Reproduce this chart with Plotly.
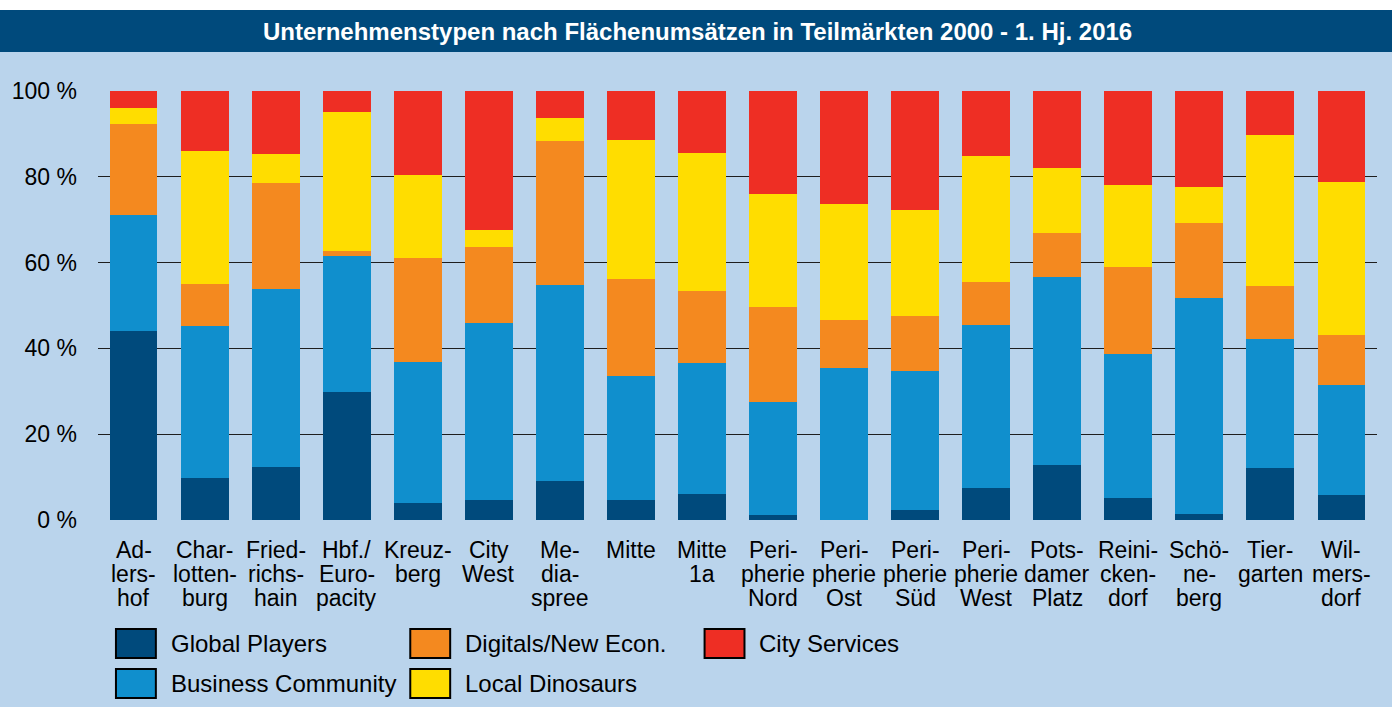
import plotly.graph_objects as go

# ---------------- data ----------------
categories = ["Adlershof", "Charlottenburg", "Friedrichshain", "Hbf./Europacity", "Kreuzberg",
              "City West", "Mediaspree", "Mitte", "Mitte 1a", "Peripherie Nord", "Peripherie Ost",
              "Peripherie Süd", "Peripherie West", "Potsdamer Platz", "Reinickendorf",
              "Schöneberg", "Tiergarten", "Wilmersdorf"]

tick_labels = ["Ad-<br>lers-<br>hof", "Char-<br>lotten-<br>burg", "Fried-<br>richs-<br>hain",
               "Hbf./<br>Euro-<br>pacity", "Kreuz-<br>berg", "City<br>West", "Me-<br>dia-<br>spree",
               "Mitte", "Mitte<br>1a", "Peri-<br>pherie<br>Nord", "Peri-<br>pherie<br>Ost",
               "Peri-<br>pherie<br>Süd", "Peri-<br>pherie<br>West", "Pots-<br>damer<br>Platz",
               "Reini-<br>cken-<br>dorf", "Schö-<br>ne-<br>berg", "Tier-<br>garten",
               "Wil-<br>mers-<br>dorf"]

global_players = [44.1, 9.8, 12.4, 29.9, 4.0, 4.7, 9.1, 4.7, 6.1, 1.2, 0.0, 2.3, 7.5, 12.8, 5.1, 1.4, 12.1, 5.8]
business_community = [27.1, 35.5, 41.5, 31.7, 32.9, 41.3, 45.7, 28.9, 30.5, 26.3, 35.5, 32.5, 38.0, 43.9, 33.6, 50.4, 30.1, 25.7]
digitals_new_econ = [21.2, 9.8, 24.7, 1.2, 24.2, 17.7, 33.6, 22.6, 16.8, 22.2, 11.2, 12.8, 10.0, 10.3, 20.3, 17.5, 12.4, 11.7]
local_dinosaurs = [3.7, 31.0, 6.8, 32.4, 19.4, 4.0, 5.4, 32.4, 32.2, 26.3, 27.0, 24.7, 29.4, 15.1, 19.1, 8.4, 35.2, 35.6]
city_services = [3.9, 13.9, 14.6, 4.8, 19.5, 32.3, 6.2, 11.4, 14.4, 24.0, 26.3, 27.7, 15.1, 17.9, 21.9, 22.3, 10.2, 21.2]

series_names = ["Global Players", "Business Community", "Digitals/New Econ.", "Local Dinosaurs", "City Services"]
series_values = [global_players, business_community, digitals_new_econ, local_dinosaurs, city_services]
series_colors = ["#004a7c", "#108fcd", "#f4891f", "#ffdd00", "#ee2e24"]

y_ticks = [0, 20, 40, 60, 80, 100]
y_tick_labels = ["0 %", "20 %", "40 %", "60 %", "80 %", "100 %"]

title_text = "Unternehmenstypen nach Flächenumsätzen in Teilmärkten 2000 - 1. Hj. 2016"

# ---------------- layout constants ----------------
W, H = 1392, 707
ML, MR, MT, MB = 95, 15, 91, 187
PW = W - ML - MR
PH = H - MT - MB
FONT = "Liberation Sans, Arial, Helvetica, sans-serif"
BG = "#bad4ec"
DARK = "#004a7c"


def px_x(x):
    return (x - ML) / PW


def px_y(y):
    return (H - MB - y) / PH


fig = go.Figure()
for name, vals, col in zip(series_names, series_values, series_colors):
    fig.add_trace(go.Bar(x=categories, y=vals, name=name, marker=dict(color=col, line=dict(width=0)),
                         showlegend=False))

shapes = [
    dict(type="rect", xref="paper", yref="paper", x0=px_x(-5), x1=px_x(W + 5), y0=px_y(10), y1=px_y(-5),
         fillcolor="white", line=dict(width=0), layer="below"),
    dict(type="rect", xref="paper", yref="paper", x0=px_x(-5), x1=px_x(W + 5), y0=px_y(52), y1=px_y(10),
         fillcolor=DARK, line=dict(width=0), layer="below"),
]
annotations = [
    dict(text="<b>" + title_text + "</b>", xref="paper", yref="paper", x=px_x(696), y=px_y(31),
         xanchor="center", yanchor="middle", showarrow=False,
         font=dict(family=FONT, size=24, color="white")),
]

# x category labels (tight line spacing like the reference)
line_y = [550, 574, 598]
for cat, lab in zip(categories, tick_labels):
    for i, part in enumerate(lab.split("<br>")):
        annotations.append(dict(text=part, x=cat, xref="x", yref="paper", y=px_y(line_y[i]),
                                xanchor="center", yanchor="middle", showarrow=False,
                                font=dict(family=FONT, size=23, color="black")))

# legend (column-major: 2 rows)
col_x = [113, 408, 703]
row_y = [629, 669]
for i, (name, col) in enumerate(zip(series_names, series_colors)):
    c, r = i // 2, i % 2
    x0 = col_x[c]
    y0 = row_y[r]
    shapes.append(dict(type="rect", xref="paper", yref="paper", x0=px_x(x0), x1=px_x(x0 + 40),
                       y0=px_y(y0 + 29), y1=px_y(y0), fillcolor=col,
                       line=dict(color="black", width=2)))
    annotations.append(dict(text=name, xref="paper", yref="paper", x=px_x(x0 + 53), y=px_y(y0 + 14),
                            xanchor="left", yanchor="middle", showarrow=False,
                            font=dict(family=FONT, size=24, color="black")))

fig.update_layout(
    width=W, height=H,
    margin=dict(l=ML, r=MR, t=MT, b=MB, pad=0),
    paper_bgcolor=BG, plot_bgcolor=BG,
    barmode="stack", bargap=0.326,
    font=dict(family=FONT, size=23, color="black"),
    shapes=shapes, annotations=annotations,
    xaxis=dict(showticklabels=False, showgrid=False, zeroline=False, showline=False, ticks=""),
    yaxis=dict(range=[0, 100], tickvals=y_ticks, ticktext=y_tick_labels, showgrid=True,
               gridcolor="#1e1e1e", gridwidth=1.2, zeroline=False, showline=False, ticks="",
               ticklabelstandoff=20, tickfont=dict(family=FONT, size=23, color="black")),
)

fig.write_html(
    "out.html",
    config={"displayModeBar": False, "staticPlot": True},
    post_script=("document.documentElement.style.margin='0';document.body.style.margin='0';"
                 "document.body.style.padding='0';document.body.style.overflow='hidden';"
                 "document.body.style.background='" + BG + "';"),
)
